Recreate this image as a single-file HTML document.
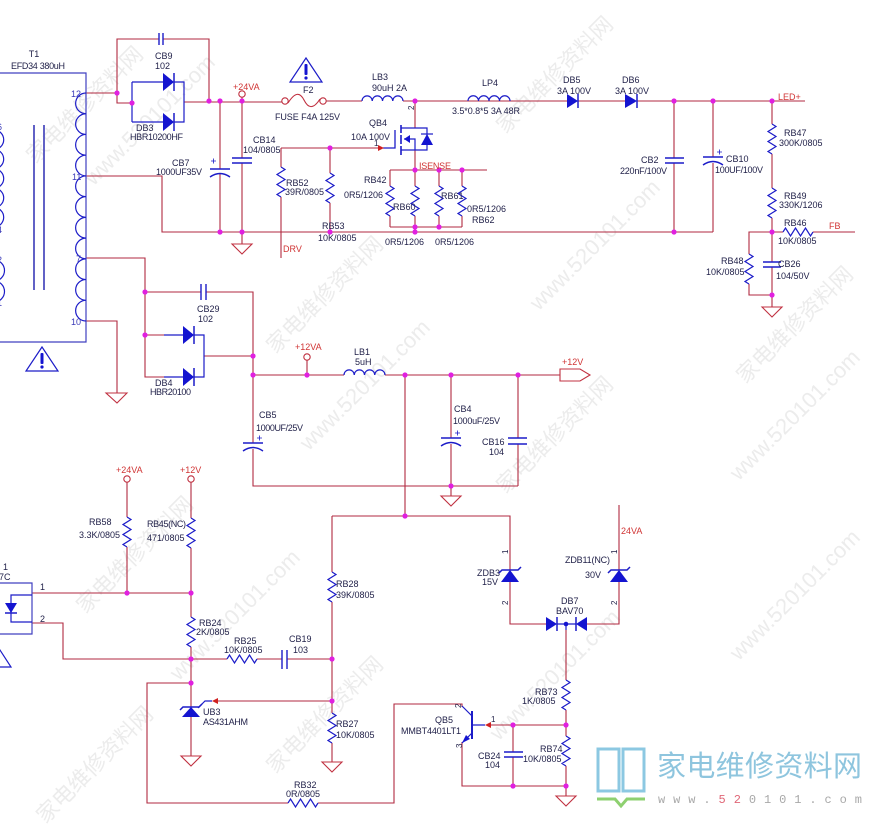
<!DOCTYPE html>
<html><head><meta charset="utf-8"><style>html,body{margin:0;padding:0;background:#fff}svg{display:block}</style></head>
<body>
<svg width="874" height="824" viewBox="0 0 874 824" xmlns="http://www.w3.org/2000/svg" font-family="Liberation Sans, sans-serif">
<rect width="874" height="824" fill="#fff"/>
<!-- watermarks -->
<g fill="#ececec" font-size="22" font-family="Liberation Sans, 'Noto Sans CJK SC', sans-serif">
<text transform="translate(90,110) rotate(-45)" text-anchor="middle">家电维修资料网</text>
<text transform="translate(155,125) rotate(-45)" text-anchor="middle">www.520101.com</text>
<text transform="translate(560,80) rotate(-45)" text-anchor="middle">家电维修资料网</text>
<text transform="translate(600,250) rotate(-45)" text-anchor="middle">www.520101.com</text>
<text transform="translate(330,300) rotate(-45)" text-anchor="middle">家电维修资料网</text>
<text transform="translate(370,390) rotate(-45)" text-anchor="middle">www.520101.com</text>
<text transform="translate(800,330) rotate(-45)" text-anchor="middle">家电维修资料网</text>
<text transform="translate(800,420) rotate(-45)" text-anchor="middle">www.520101.com</text>
<text transform="translate(560,440) rotate(-45)" text-anchor="middle">家电维修资料网</text>
<text transform="translate(140,560) rotate(-45)" text-anchor="middle">家电维修资料网</text>
<text transform="translate(240,620) rotate(-45)" text-anchor="middle">www.520101.com</text>
<text transform="translate(330,720) rotate(-45)" text-anchor="middle">家电维修资料网</text>
<text transform="translate(560,680) rotate(-45)" text-anchor="middle">www.520101.com</text>
<text transform="translate(800,600) rotate(-45)" text-anchor="middle">www.520101.com</text>
<text transform="translate(100,770) rotate(-45)" text-anchor="middle">家电维修资料网</text>
</g>

<!-- wires -->
<g stroke="#b02a40" stroke-width="1.1" fill="none">
<path d="M86 93H117V39H159M163 39H209V102"/>
<path d="M117 93V103H132"/>
<path d="M184 102H282M326 101H362M403 101H567M578 101H625M637 101H805"/>
<path d="M220 102V169M220 174V232"/>
<path d="M242 97V158M242 163V244"/>
<path d="M86 176H162V232H713"/>
<path d="M281 148H383M281 148V167M281 197V258"/>
<path d="M330 148V173M330 203V232"/>
<path d="M415 101V128M415 150V170"/>
<path d="M390 170H487"/>
<path d="M390 170V186M390 216V227M415 170V186M415 216V227M439 170V186M439 216V227M462 170V186M462 216V227"/>
<path d="M390 227H462M415 227V232"/>
<path d="M674 101V158M674 163V232"/>
<path d="M713 101V157M713 163V232"/>
<path d="M772 101V124M772 154V188M772 218V262M772 267V307"/>
<path d="M772 232H783M813 232H855"/>
<path d="M772 232H749V254M749 284V295H772"/>
<path d="M86 258H145V377H164M145 335H164"/>
<path d="M145 292H201M206 292H253V443M253 449V486H518"/>
<path d="M204 356H253"/>
<path d="M86 321H117V393"/>
<path d="M253 375H344M385 375H560"/>
<path d="M307 360V375"/>
<path d="M405 375V516"/>
<path d="M451 375V438M451 444V496"/>
<path d="M518 375V438M518 444V486"/>
<path d="M332 516H510V570M510 582V624H546"/>
<path d="M587 624H619V582M619 570V505"/>
<path d="M566 630V680M566 710V736M566 766V796"/>
<path d="M332 516V572M332 602V713M332 743V762"/>
<path d="M566 725H490"/>
<path d="M462 707V704H394V803H318M288 803H147V683H191"/>
<path d="M462 742V786H566"/>
<path d="M513 725V752M513 757V786"/>
<path d="M127 482V517M127 547V593"/>
<path d="M191 482V518M191 548V617M191 647V707M191 717V756"/>
<path d="M32 593H191"/>
<path d="M32 623H63V659H227M257 659H282M287 659H332"/>
<path d="M332 701H216"/>
</g>

<!-- ground symbols -->
<g stroke="#c03040" stroke-width="1.1" fill="none">
<path d="M232 244H252L242 254Z"/>
<path d="M762 307H782L772 317Z"/>
<path d="M106 393H127L117 403Z"/>
<path d="M441 496H461L451 506Z"/>
<path d="M322 762H342L332 772Z"/>
<path d="M181 756H201L191 766Z"/>
<path d="M556 796H576L566 806Z"/>
</g>

<!-- net circles, fuse, port -->
<g stroke="#c03040" stroke-width="1.1" fill="#fff">
<circle cx="242" cy="94" r="3.2"/>
<circle cx="285" cy="101" r="3.2"/>
<circle cx="323" cy="101" r="3.2"/>
<circle cx="307" cy="357" r="3.2"/>
<circle cx="127" cy="479" r="3.2"/>
<circle cx="191" cy="479" r="3.2"/>
<path d="M288 103C295 92 300 92 304 100S313 110 320 99" fill="none"/>
<path d="M560 369H580L590 375L580 381H560Z" fill="none"/>
</g>

<!-- components blue -->
<g stroke="#1c1cc8" stroke-width="1.2" fill="none">
<!-- transformer -->
<path d="M0 73H86V342H0" stroke="#4040c0"/>
<path d="M86 93a10.36 10.36 0 0 0 0 20.73a10.36 10.36 0 0 0 0 20.73a10.36 10.36 0 0 0 0 20.73a10.36 10.36 0 0 0 0 20.73a10.36 10.36 0 0 0 0 20.73a10.36 10.36 0 0 0 0 20.73a10.36 10.36 0 0 0 0 20.73a10.36 10.36 0 0 0 0 20.73a10.36 10.36 0 0 0 0 20.73a10.36 10.36 0 0 0 0 20.73a10.36 10.36 0 0 0 0 20.73"/>
<path d="M-6 130a9.7 9.7 0 0 1 0 19.4a9.7 9.7 0 0 1 0 19.4a9.7 9.7 0 0 1 0 19.4a9.7 9.7 0 0 1 0 19.4a9.7 9.7 0 0 1 0 19.4M-6 260a10.5 10.5 0 0 1 0 21a10.5 10.5 0 0 1 0 21"/>
<path d="M34 125V290M44 125V290" stroke="#5050c0" stroke-width="1.8"/>
<!-- CB9 -->
<path d="M159 33V45M163 33V45" stroke-width="1.4"/>
<!-- DB3 frame -->
<path d="M132 82V122M132 82H163M174 82H184V122H174M132 122H163"/>
<path d="M174 73V91M174 113V131" stroke-width="1.5"/>
<!-- CB7 -->
<path d="M210 169H230M210 177Q220 170 230 177" stroke-width="1.4"/>
<path d="M211 161H216M213.5 158.5V163.5" stroke-width="0.8"/>
<!-- CB14 -->
<path d="M232 158H252M232 163H252" stroke-width="1.4"/>
<!-- RB52, RB53 -->
<path d="M281 167l4 2.5l-8 5l8 5l-8 5l8 5l-8 5l4 2.5"/>
<path d="M330 173l4 2.5l-8 5l8 5l-8 5l8 5l-8 5l4 2.5"/>
<!-- QB4 -->
<path d="M383 148H395V130" stroke-width="1.3"/>
<path d="M401 125V133M401 135V144M401 146V155" stroke-width="1.6"/>
<path d="M401 128H427V150H401M404 139H415V150"/>
<path d="M421 134H433"/>
<!-- RB42, RB60, RB61, RB62 -->
<path d="M390 186l4 2.5l-8 5l8 5l-8 5l8 5l-8 5l4 2.5"/>
<path d="M415 186l4 2.5l-8 5l8 5l-8 5l8 5l-8 5l4 2.5"/>
<path d="M439 186l4 2.5l-8 5l8 5l-8 5l8 5l-8 5l4 2.5"/>
<path d="M462 186l4 2.5l-8 5l8 5l-8 5l8 5l-8 5l4 2.5"/>
<!-- inductors -->
<path d="M362 101a5.125 5.125 0 0 1 10.25 0a5.125 5.125 0 0 1 10.25 0a5.125 5.125 0 0 1 10.25 0a5.125 5.125 0 0 1 10.25 0"/>
<path d="M468 101a5.25 5.25 0 0 1 10.5 0a5.25 5.25 0 0 1 10.5 0a5.25 5.25 0 0 1 10.5 0a5.25 5.25 0 0 1 10.5 0"/>
<path d="M344 375a5.125 5.125 0 0 1 10.25 0a5.125 5.125 0 0 1 10.25 0a5.125 5.125 0 0 1 10.25 0a5.125 5.125 0 0 1 10.25 0"/>
<!-- DB5 DB6 bars -->
<path d="M578 94V108M637 94V108" stroke-width="1.5"/>
<!-- CB2, CB10 -->
<path d="M665 158H684M665 163H684" stroke-width="1.4"/>
<path d="M703 157H723M703 165Q713 158 723 165" stroke-width="1.4"/>
<path d="M717 152H722M719.5 149.5V154.5" stroke-width="0.8"/>
<!-- RB47, RB49 -->
<path d="M772 124l4 2.5l-8 5l8 5l-8 5l8 5l-8 5l4 2.5"/>
<path d="M772 188l4 2.5l-8 5l8 5l-8 5l8 5l-8 5l4 2.5"/>
<!-- RB46 -->
<path d="M783 232l2.5 -4l5 8l5 -8l5 8l5 -8l5 8l2.5 -4"/>
<!-- RB48 -->
<path d="M749 254l4 2.5l-8 5l8 5l-8 5l8 5l-8 5l4 2.5"/>
<!-- CB26 -->
<path d="M763 262H781M763 267H781" stroke-width="1.4"/>
<!-- CB29 -->
<path d="M201 284V300M206 284V300" stroke-width="1.4"/>
<!-- DB4 -->
<path d="M164 335H183M194 335H204V377H194M164 377H183"/>
<path d="M194 326V344M194 368V386" stroke-width="1.5"/>
<!-- CB5, CB4, CB16 -->
<path d="M243 443H263M243 451Q253 444 263 451" stroke-width="1.4"/>
<path d="M257 438H262M259.5 435.5V440.5" stroke-width="0.8"/>
<path d="M441 438H461M441 446Q451 439 461 446" stroke-width="1.4"/>
<path d="M455 433H460M457.5 430.5V435.5" stroke-width="0.8"/>
<path d="M508 438H527M508 444H527" stroke-width="1.4"/>
<!-- RB58, RB45, RB24 -->
<path d="M127 517l4 2.5l-8 5l8 5l-8 5l8 5l-8 5l4 2.5"/>
<path d="M191 518l4 2.5l-8 5l8 5l-8 5l8 5l-8 5l4 2.5"/>
<path d="M191 617l4 2.5l-8 5l8 5l-8 5l8 5l-8 5l4 2.5"/>
<!-- RB25 -->
<path d="M227 659l2.5 -4l5 8l5 -8l5 8l5 -8l5 8l2.5 -4"/>
<!-- CB19 -->
<path d="M282 650V669M287 650V669" stroke-width="1.4"/>
<!-- opto -->
<path d="M-2 583H32V634H-2" stroke="#4040c0"/>
<path d="M32 595H11V622H32"/>
<path d="M5 613H17" stroke-width="1.5"/>
<!-- UB3 -->
<path d="M180 710L183 707H199L202 704" stroke-width="1.5"/>
<path d="M212 701H205L198 708"/>
<!-- RB28, RB27 -->
<path d="M332 572l4 2.5l-8 5l8 5l-8 5l8 5l-8 5l4 2.5"/>
<path d="M332 713l4 2.5l-8 5l8 5l-8 5l8 5l-8 5l4 2.5"/>
<!-- zeners -->
<path d="M499 573L502 570H518L521 567" stroke-width="1.5"/>
<path d="M608 573L611 570H627L630 567" stroke-width="1.5"/>
<!-- DB7 -->
<path d="M557 617V631M576 617V631" stroke-width="1.5"/>
<path d="M557 624H576M566 624V630"/>
<!-- RB73, RB74 -->
<path d="M566 680l4 2.5l-8 5l8 5l-8 5l8 5l-8 5l4 2.5"/>
<path d="M566 736l4 2.5l-8 5l8 5l-8 5l8 5l-8 5l4 2.5"/>
<!-- QB5 -->
<path d="M472 711V739" stroke-width="2"/>
<path d="M472 725H485M472 716L462 706M472 733L462 743"/>
<!-- CB24 -->
<path d="M504 752H523M504 757H523" stroke-width="1.4"/>
<!-- RB32 -->
<path d="M288 803l2.5 -4l5 8l5 -8l5 8l5 -8l5 8l2.5 -4"/>
<!-- warning triangles -->
<path d="M306 58L322 82H290Z"/>
<path d="M42 347L58 371H26Z"/>
<path d="M-2 647L11 667H-15Z"/>
</g>

<!-- filled blue shapes -->
<g fill="#1414d0">
<path d="M163 73V91L174 82Z"/>
<path d="M163 113V131L174 122Z"/>
<path d="M567 94V108L578 101Z"/>
<path d="M625 94V108L637 101Z"/>
<path d="M183 326V344L194 335Z"/>
<path d="M183 368V386L194 377Z"/>
<path d="M421 145H433L427 134Z"/>
<path d="M404 139L410 135V143Z"/>
<path d="M5 603H17L11 613Z"/>
<path d="M182 717H200L191 707Z"/>
<path d="M501 582H519L510 570Z"/>
<path d="M610 582H628L619 570Z"/>
<path d="M546 617V631L557 624Z"/>
<path d="M587 617V631L576 624Z"/>
<path d="M462 743L470 739L466 735Z"/>
<circle cx="566" cy="624" r="2.3"/>
<rect x="304.5" y="64" width="3" height="11" rx="1"/>
<circle cx="306" cy="78" r="1.6"/>
<rect x="40.5" y="353" width="3" height="11" rx="1"/>
<circle cx="42" cy="367" r="1.6"/>
</g>

<!-- red arrows -->
<g fill="#d02020">
<path d="M378 145L384 148L378 151Z"/>
<path d="M218 698L212 701L218 704Z"/>
<path d="M491 722L485 725L491 728Z"/>
</g>

<!-- junctions -->
<g fill="#e020e0">
<circle cx="117" cy="93" r="2.6"/><circle cx="132" cy="103" r="2.6"/><circle cx="209" cy="101" r="2.6"/><circle cx="220" cy="101" r="2.6"/><circle cx="242" cy="101" r="2.6"/>
<circle cx="220" cy="232" r="2.6"/><circle cx="242" cy="232" r="2.6"/><circle cx="330" cy="148" r="2.6"/><circle cx="330" cy="232" r="2.6"/>
<circle cx="415" cy="101" r="2.6"/><circle cx="415" cy="170" r="2.6"/><circle cx="439" cy="170" r="2.6"/><circle cx="462" cy="170" r="2.6"/>
<circle cx="415" cy="227" r="2.6"/><circle cx="439" cy="227" r="2.6"/><circle cx="415" cy="232" r="2.6"/>
<circle cx="674" cy="101" r="2.6"/><circle cx="713" cy="101" r="2.6"/><circle cx="772" cy="101" r="2.6"/><circle cx="674" cy="232" r="2.6"/><circle cx="772" cy="232" r="2.6"/><circle cx="772" cy="295" r="2.6"/>
<circle cx="145" cy="292" r="2.6"/><circle cx="145" cy="335" r="2.6"/><circle cx="253" cy="356" r="2.6"/><circle cx="253" cy="375" r="2.6"/>
<circle cx="307" cy="375" r="2.6"/><circle cx="405" cy="375" r="2.6"/><circle cx="451" cy="375" r="2.6"/><circle cx="518" cy="375" r="2.6"/><circle cx="451" cy="486" r="2.6"/><circle cx="405" cy="516" r="2.6"/>
<circle cx="127" cy="593" r="2.6"/><circle cx="191" cy="593" r="2.6"/><circle cx="191" cy="659" r="2.6"/><circle cx="191" cy="683" r="2.6"/>
<circle cx="332" cy="659" r="2.6"/><circle cx="332" cy="701" r="2.6"/><circle cx="513" cy="725" r="2.6"/><circle cx="566" cy="725" r="2.6"/><circle cx="513" cy="786" r="2.6"/><circle cx="566" cy="786" r="2.6"/>
</g>

<!-- labels -->
<g fill="#22224a" font-size="9">
<text x="34" y="57" text-anchor="middle">T1</text>
<text x="11" y="69" textLength="54">EFD34 380uH</text>
<text x="155" y="59">CB9</text>
<text x="155" y="69">102</text>
<text x="136" y="131">DB3</text>
<text x="130" y="140" textLength="53">HBR10200HF</text>
<text x="303" y="93">F2</text>
<text x="275" y="120" textLength="65">FUSE F4A 125V</text>
<text x="372" y="80">LB3</text>
<text x="372" y="91">90uH 2A</text>
<text x="482" y="86">LP4</text>
<text x="452" y="114" textLength="68">3.5*0.8*5 3A 48R</text>
<text x="563" y="83">DB5</text>
<text x="557" y="94">3A 100V</text>
<text x="622" y="83">DB6</text>
<text x="615" y="94">3A 100V</text>
<text x="369" y="126">QB4</text>
<text x="351" y="140">10A 100V</text>
<text x="374" y="146" font-size="8">1</text>
<text transform="translate(414,110) rotate(-90)" font-size="8">2</text>
<text x="253" y="143">CB14</text>
<text x="243" y="153">104/0805</text>
<text x="172" y="166">CB7</text>
<text x="156" y="175" textLength="46">1000UF35V</text>
<text x="286" y="186">RB52</text>
<text x="285" y="195">39R/0805</text>
<text x="322" y="229">RB53</text>
<text x="318" y="241">10K/0805</text>
<text x="364" y="183">RB42</text>
<text x="344" y="198">0R5/1206</text>
<text x="393" y="210">RB60</text>
<text x="441" y="199">RB61</text>
<text x="467" y="212">0R5/1206</text>
<text x="472" y="223">RB62</text>
<text x="385" y="245">0R5/1206</text>
<text x="435" y="245">0R5/1206</text>
<text x="641" y="163">CB2</text>
<text x="620" y="174" textLength="47">220nF/100V</text>
<text x="726" y="162">CB10</text>
<text x="715" y="173" textLength="48">100UF/100V</text>
<text x="784" y="136">RB47</text>
<text x="779" y="146">300K/0805</text>
<text x="784" y="199">RB49</text>
<text x="779" y="208">330K/1206</text>
<text x="784" y="226">RB46</text>
<text x="778" y="244">10K/0805</text>
<text x="721" y="264">RB48</text>
<text x="706" y="275">10K/0805</text>
<text x="778" y="267">CB26</text>
<text x="776" y="279">104/50V</text>
<text x="197" y="312">CB29</text>
<text x="198" y="322">102</text>
<text x="155" y="386">DB4</text>
<text x="150" y="395" textLength="41">HBR20100</text>
<text x="259" y="418">CB5</text>
<text x="256" y="431" textLength="47">1000UF/25V</text>
<text x="354" y="355">LB1</text>
<text x="355" y="365">5uH</text>
<text x="454" y="412">CB4</text>
<text x="453" y="424" textLength="47">1000uF/25V</text>
<text x="482" y="445">CB16</text>
<text x="489" y="455">104</text>
<text x="89" y="525">RB58</text>
<text x="79" y="538">3.3K/0805</text>
<text x="147" y="527" textLength="39">RB45(NC)</text>
<text x="147" y="541">471/0805</text>
<text x="40" y="590">1</text>
<text x="40" y="622">2</text>
<text x="3" y="570">1</text>
<text x="-1" y="580">7C</text>
<text x="199" y="626">RB24</text>
<text x="196" y="635">2K/0805</text>
<text x="234" y="644">RB25</text>
<text x="224" y="653">10K/0805</text>
<text x="289" y="642">CB19</text>
<text x="293" y="653">103</text>
<text x="203" y="715">UB3</text>
<text x="203" y="725" textLength="45">AS431AHM</text>
<text x="336" y="587">RB28</text>
<text x="336" y="598">39K/0805</text>
<text x="336" y="727">RB27</text>
<text x="336" y="738">10K/0805</text>
<text x="294" y="788">RB32</text>
<text x="286" y="797">0R/0805</text>
<text x="477" y="576">ZDB3</text>
<text x="482" y="585">15V</text>
<text x="565" y="563" textLength="45">ZDB11(NC)</text>
<text x="585" y="578">30V</text>
<text x="561" y="604">DB7</text>
<text x="556" y="614">BAV70</text>
<text x="535" y="695">RB73</text>
<text x="522" y="704">1K/0805</text>
<text x="435" y="723">QB5</text>
<text x="401" y="734" textLength="60">MMBT4401LT1</text>
<text x="491" y="722" font-size="8">1</text>
<text x="478" y="759">CB24</text>
<text x="485" y="768">104</text>
<text x="540" y="752">RB74</text>
<text x="523" y="762">10K/0805</text>
<g font-size="8">
<text transform="translate(508,554) rotate(-90)">1</text>
<text transform="translate(508,605) rotate(-90)">2</text>
<text transform="translate(617,554) rotate(-90)">1</text>
<text transform="translate(617,605) rotate(-90)">2</text>
<text transform="translate(461,708) rotate(-90)">2</text>
<text transform="translate(462,748) rotate(-90)">3</text>
</g>
</g>
<g fill="#3a3ab8" font-size="9">
<text x="71" y="97">12</text>
<text x="72" y="180">11</text>
<text x="76" y="262">7</text>
<text x="71" y="325">10</text>
<text x="-3" y="130">6</text>
<text x="-3" y="233">4</text>
<text x="-3" y="263">2</text>
<text x="-3" y="306">1</text>
</g>

<!-- red net labels -->
<g fill="#d03535" font-size="9">
<text x="233" y="90">+24VA</text>
<text x="778" y="100">LED+</text>
<text x="829" y="229">FB</text>
<text x="283" y="252">DRV</text>
<text x="419" y="169" textLength="32">ISENSE</text>
<text x="295" y="350">+12VA</text>
<text x="562" y="365">+12V</text>
<text x="116" y="473">+24VA</text>
<text x="180" y="473">+12V</text>
<text x="621" y="534">24VA</text>
</g>

<!-- logo -->
<g fill="none" stroke="#8cc8e2" stroke-width="3">
<path d="M598 749H619V791H598Z"/>
<path d="M623 749H644V791H623Z"/>
</g>
<path d="M597 799H615L621 806L627 799H645" fill="none" stroke="#8ed070" stroke-width="3"/>
<text x="657" y="776" font-size="29" fill="#8ec5de" font-family="'Noto Sans CJK SC', 'WenQuanYi Zen Hei', sans-serif" textLength="205">家电维修资料网</text>
<text x="658" y="803" font-size="12" fill="#a8a8a8" textLength="204" font-family="Liberation Mono, monospace">www.<tspan fill="#e06878">52</tspan>0101.com</text>
</svg>
</body></html>
